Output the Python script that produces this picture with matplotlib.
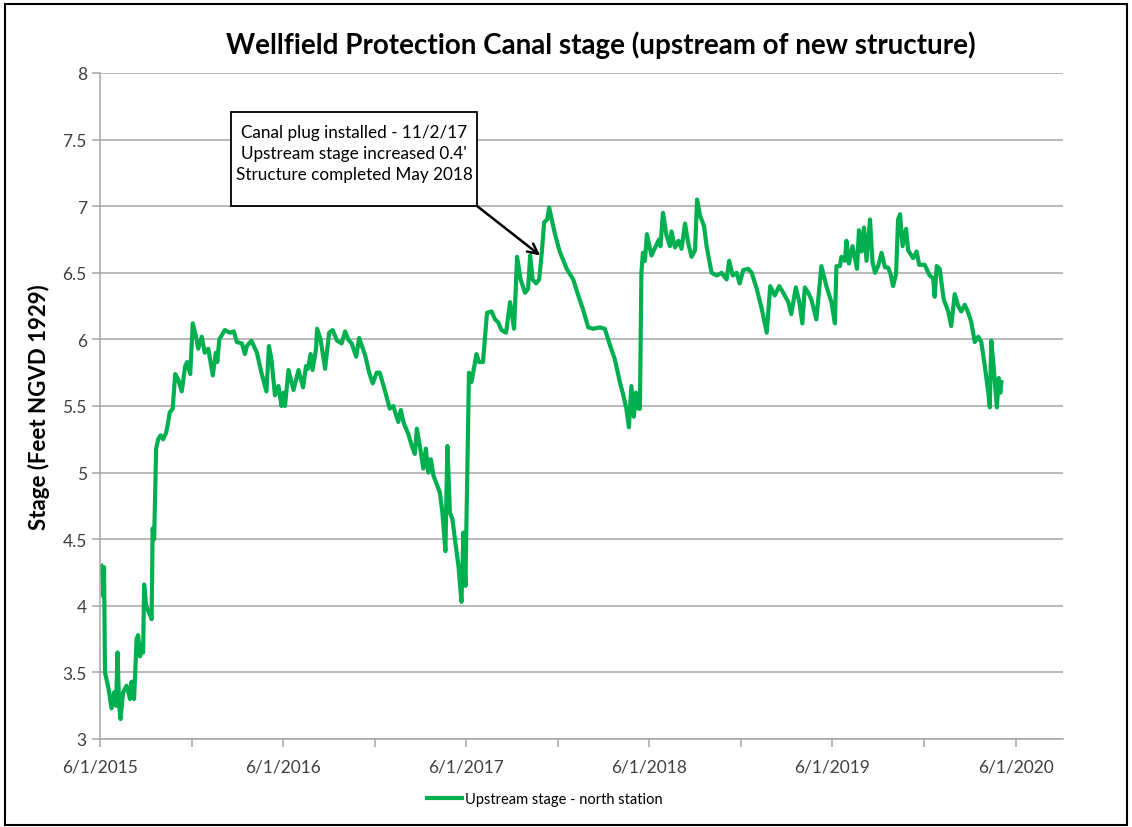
import matplotlib
matplotlib.use('Agg')
from matplotlib import pyplot as plt
import matplotlib.dates as mdates
from matplotlib.patches import Rectangle
import pandas as pd

plt.rcParams['font.family'] = ['Lato', 'DejaVu Sans']

# stage readings, days counted from the first axis date
start_date = '2015-06-01'
day_offset = [
    3, 4, 7, 8, 10, 17, 23, 28, 32, 35, 38, 41, 46, 53, 60, 63, 68, 73, 76, 80,
    83, 86, 88, 92, 100, 103, 105, 108, 112, 116, 121, 126, 132, 136, 139, 145,
    150, 156, 163, 170, 174, 180, 185, 191, 196, 203, 209, 216, 225, 231, 234,
    238, 249, 259, 267, 273, 283, 289, 293, 302, 313, 322, 332, 337, 342, 349,
    356, 362, 366, 369, 376, 386, 396, 405, 411, 415, 420, 424, 431, 433, 440,
    449, 457, 464, 473, 482, 489, 495, 502, 511, 517, 529, 537, 544, 552, 558,
    568, 578, 585, 595, 600, 606, 615, 622, 628, 632, 638, 645, 650, 655, 660,
    665, 671, 678, 683, 689, 693, 698, 703, 708, 715, 721, 725, 729, 731, 736,
    741, 751, 756, 764, 772, 781, 788, 794, 801, 810, 818, 826, 832, 839, 848,
    854, 858, 863, 870, 876, 881, 886, 892, 896, 901, 907, 917, 931, 944, 954,
    964, 974, 984, 997, 1007, 1017, 1027, 1037, 1044, 1050, 1055, 1060, 1065,
    1069, 1074, 1077, 1080, 1083, 1087, 1091, 1100, 1115, 1118, 1123, 1130,
    1137, 1140, 1147, 1154, 1160, 1167, 1173, 1180, 1187, 1191, 1197, 1205,
    1210, 1220, 1230, 1240, 1250, 1255, 1262, 1270, 1276, 1283, 1293, 1300,
    1310, 1320, 1330, 1337, 1346, 1355, 1363, 1373, 1379, 1388, 1395, 1401,
    1406, 1413, 1419, 1429, 1439, 1449, 1459, 1466, 1469, 1476, 1479, 1486,
    1489, 1494, 1501, 1506, 1510, 1514, 1519, 1524, 1529, 1536, 1541, 1546,
    1552, 1559, 1566, 1572, 1577, 1582, 1588, 1592, 1596, 1601, 1608, 1612,
    1622, 1629, 1634, 1645, 1655, 1662, 1665, 1669, 1675, 1683, 1692, 1698,
    1705, 1712, 1718, 1725, 1732, 1738, 1745, 1752, 1758, 1765, 1772, 1775,
    1778, 1783, 1789, 1793, 1796, 1798,
]
stage_ft = [
    4.30, 4.29, 4.07, 4.29, 3.50, 3.38, 3.23, 3.35, 3.25, 3.65, 3.26, 3.15, 3.35, 3.40, 3.30, 3.43, 3.30, 3.75, 3.78, 3.62,
    3.70, 3.65, 4.16, 4.00, 3.93, 3.90, 4.58, 4.50, 5.18, 5.25, 5.28, 5.25, 5.30, 5.38, 5.45, 5.48,
    5.74, 5.70, 5.61, 5.80, 5.83, 5.74, 6.12, 6.03, 5.93, 6.02, 5.90, 5.93, 5.73, 5.90, 5.83,
    6.00, 6.07, 6.05, 6.06, 5.98, 5.97, 5.89, 5.95, 5.99, 5.90, 5.75, 5.61, 5.95, 5.85, 5.58,
    5.65, 5.50, 5.60, 5.50, 5.77, 5.62, 5.77, 5.64, 5.80, 5.78, 5.89, 5.77, 5.93, 6.08, 6.00,
    5.78, 6.05, 6.07, 5.99, 5.97, 6.06, 6.00, 5.97, 5.87, 6.01, 5.88, 5.75, 5.67, 5.75, 5.75,
    5.62, 5.48, 5.50, 5.38, 5.47, 5.37, 5.29, 5.20, 5.14, 5.33, 5.20, 5.03, 5.18, 5.00, 5.10,
    4.98, 4.92, 4.85, 4.70, 4.41, 5.20, 4.70, 4.65, 4.50, 4.30, 4.03, 4.55, 4.15, 4.63, 5.75,
    5.68, 5.89, 5.83, 5.83, 6.20, 6.21, 6.15, 6.13, 6.07, 6.05, 6.28, 6.08, 6.62, 6.45, 6.35,
    6.38, 6.63, 6.45, 6.42, 6.45, 6.64, 6.88, 6.90, 6.99, 6.90, 6.80, 6.66, 6.53, 6.45, 6.33,
    6.22, 6.09, 6.08, 6.09, 6.08, 5.96, 5.85, 5.68, 5.58, 5.48, 5.34, 5.65, 5.42,
    5.60, 5.48, 5.48, 6.50, 6.65, 6.59, 6.79, 6.63, 6.75, 6.70, 6.95, 6.78,
    6.70, 6.81, 6.69, 6.74, 6.68, 6.87, 6.73, 6.62, 6.67, 7.05, 6.93, 6.85,
    6.70, 6.50, 6.48, 6.50, 6.45, 6.59, 6.48, 6.50, 6.42, 6.52, 6.53, 6.50,
    6.38, 6.23, 6.05, 6.40, 6.33, 6.40, 6.35, 6.28, 6.19, 6.39, 6.28, 6.12,
    6.39, 6.35, 6.30, 6.15, 6.55, 6.40, 6.28, 6.12, 6.55, 6.55, 6.62, 6.59,
    6.74, 6.57, 6.70, 6.61, 6.53, 6.82, 6.66, 6.84, 6.59, 6.90, 6.58, 6.50,
    6.55, 6.65, 6.54, 6.54, 6.49, 6.40, 6.49, 6.90, 6.94, 6.70, 6.83, 6.67,
    6.61, 6.66, 6.56, 6.56, 6.48, 6.46, 6.32, 6.55, 6.53, 6.30, 6.21, 6.10,
    6.34, 6.25, 6.21, 6.26, 6.20, 6.13, 5.98, 6.02, 5.98, 5.80, 5.60, 5.49,
    5.99, 5.78, 5.49, 5.71, 5.60, 5.68,
]

note_lines = ['Canal plug installed - 11/2/17',
              "Upstream stage increased 0.4'",
              'Structure completed May 2018']
note_date = '2017-10-26'
note_stage = 6.63

dates = pd.Timestamp(start_date) + pd.to_timedelta(day_offset, unit='D')

fig = plt.figure(figsize=(11.32, 8.28), dpi=100)
ax = fig.add_axes([100/1132, 1 - 740/828, 963/1132, 666/828])

green = '#00B050'
grid_c = '#A6A6A6'

ax.plot(dates, stage_ft, color=green, lw=3.0, solid_joinstyle='round',
        label='Upstream stage - north station')

ax.set_ylim(3, 8)
ax.set_yticks([3 + 0.5 * i for i in range(11)])
ax.yaxis.set_major_formatter(plt.FuncFormatter(lambda v, p: f'{v:g}'))
ax.set_xlim(pd.Timestamp('2015-06-01'), pd.Timestamp('2020-09-03'))
ax.xaxis.set_major_locator(mdates.MonthLocator(bymonth=6, bymonthday=1))
ax.xaxis.set_minor_locator(mdates.MonthLocator(bymonth=12, bymonthday=1))
ax.xaxis.set_major_formatter(plt.FuncFormatter(
    lambda v, p: '{d.month}/{d.day}/{d.year}'.format(d=mdates.num2date(v))))

ax.grid(axis='y', color=grid_c, lw=1.1)
ax.set_axisbelow(True)
for s in ['top', 'right']:
    ax.spines[s].set_visible(False)
for s in ['left', 'bottom']:
    ax.spines[s].set_color(grid_c)
    ax.spines[s].set_linewidth(1.1)
ax.tick_params(axis='both', which='both', color=grid_c, width=1.1, length=6,
               labelsize=12.5, labelcolor='#404040')
ax.tick_params(axis='x', pad=8)

ax.set_ylabel('Stage (Feet NGVD 1929)', fontsize=16, fontweight='bold', labelpad=9)
fig.text(601/1132, 1 - 45/828, 'Wellfield Protection Canal stage (upstream of new structure)',
         ha='center', va='center', fontsize=20, fontweight='bold')

# note box with arrow
fig.patches.append(Rectangle((231/1132, 1 - 207/828), 246/1132, 94/828,
                             transform=fig.transFigure, fc='white', ec='black', lw=1.3, zorder=5))
fig.text(354/1132, 1 - 154/828, '\n'.join(note_lines), ha='center', va='center',
         fontsize=12.3, linespacing=1.4, zorder=6)
ax.annotate('', xy=(pd.Timestamp(note_date), note_stage), xycoords='data',
            xytext=(477/1132, 1 - 207/828), textcoords='figure fraction',
            arrowprops=dict(arrowstyle='->', color='black', lw=1.8,
                            shrinkA=0, shrinkB=0, mutation_scale=18))

fig.legend(loc='center', bbox_to_anchor=(545/1132, 1 - 800/828), frameon=False,
           fontsize=10.5, handlelength=2.4, handletextpad=0.2)

# outer chart frame
fig.patches.append(Rectangle((5/1132, 2/828), 1122/1132, 821/828, transform=fig.transFigure,
                             fill=False, ec='black', lw=1.5))

fig.savefig('out.png', dpi=100)
